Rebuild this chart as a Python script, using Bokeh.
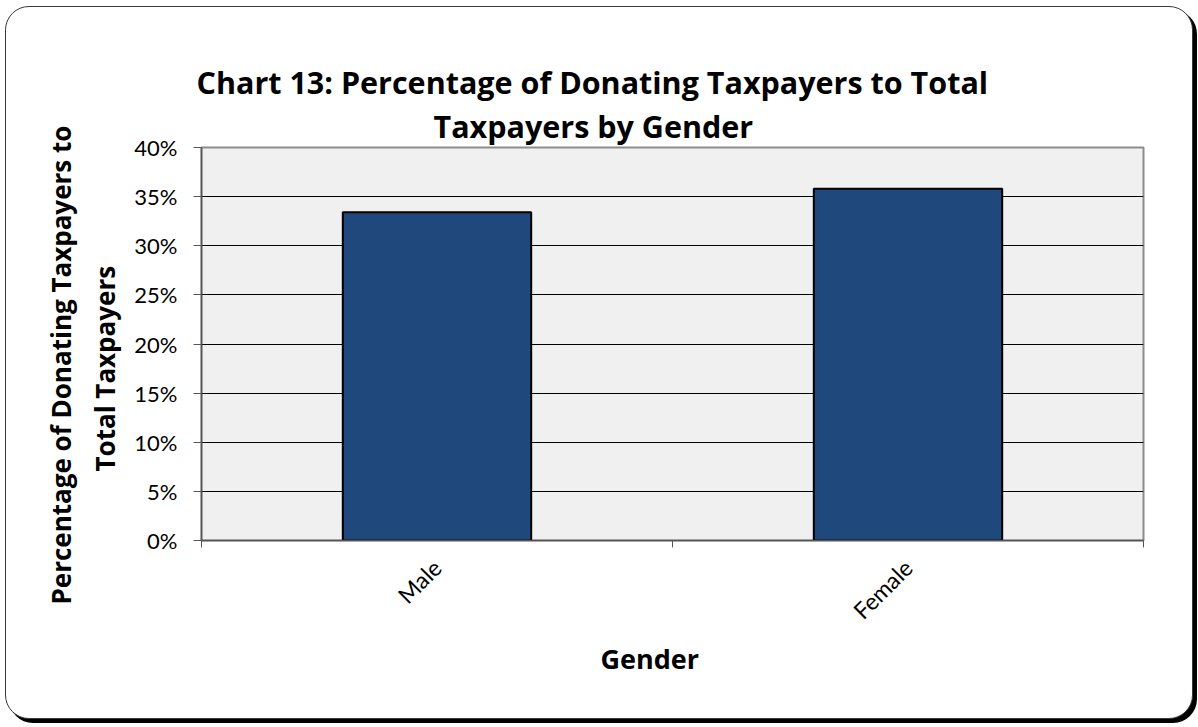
import math
from bokeh.plotting import figure
from bokeh.models import FixedTicker, NumeralTickFormatter, Title, Range1d
from bokeh.embed import file_html
from bokeh.resources import INLINE

# ---- data ----
genders = ["Male", "Female"]
share = [0.334, 0.358]
y_ticks = [0.0, 0.05, 0.10, 0.15, 0.20, 0.25, 0.30, 0.35, 0.40]
title_lines = ["Chart 13: Percentage of Donating Taxpayers to Total", "Taxpayers by Gender"]
ylabel_lines = ["Percentage of Donating Taxpayers to", "Total Taxpayers"]
xlabel = "Gender"

W, H = 1188, 713
FONT = "Lato"
TFONT = "Open Sans"

xpos = [i + 0.5 for i in range(len(genders))]

p = figure(width=W, height=H, output_backend="svg", toolbar_location=None,
           title_location=None,
           x_range=Range1d(0, len(genders)), y_range=Range1d(0, 0.40),
           min_border_left=195, min_border_right=51, min_border_top=140, min_border_bottom=180,
           background_fill_color="#f0f0f0", border_fill_color=None,
           outline_line_color="#8c8c8c", outline_line_width=2,
           styles={"margin-left": "5px", "margin-top": "6px",
                   "border": "1px solid #3a3a3a", "border-radius": "24px",
                   "box-shadow": "4px 4px 0 0 #000", "background-color": "white"})

p.vbar(x=xpos, top=share, width=0.4, fill_color="#1F497D", line_color="black", line_width=2)

# grid
p.xgrid.visible = False
p.ygrid.ticker = FixedTicker(ticks=y_ticks[1:-1])
p.ygrid.grid_line_color = "black"
p.ygrid.grid_line_width = 1

# y axis
ya = p.yaxis[0]
ya.ticker = FixedTicker(ticks=y_ticks)
ya.formatter = NumeralTickFormatter(format="0%")
ya.axis_line_color = "#555555"
ya.axis_line_width = 1.5
ya.major_tick_line_color = "#555555"
ya.major_tick_in = 0
ya.major_tick_out = 8
ya.minor_tick_line_color = None
ya.major_label_standoff = 16
ya.major_label_text_font = FONT
ya.major_label_text_font_size = "22px"
ya.major_label_text_color = "black"

# x axis: labels at category centres, ticks at category boundaries
xa = p.xaxis[0]
xa.ticker = FixedTicker(ticks=xpos, minor_ticks=list(range(len(genders) + 1)))
xa.major_label_overrides = {x: g for x, g in zip(xpos, genders)}
xa.major_tick_line_color = None
xa.minor_tick_line_color = "#555555"
xa.minor_tick_in = 0
xa.minor_tick_out = 7
xa.axis_line_color = "#555555"
xa.axis_line_width = 1.5
xa.major_label_orientation = math.pi / 4
xa.major_label_standoff = 16
xa.major_label_text_font = FONT
xa.major_label_text_font_size = "23px"
xa.major_label_text_color = "black"

def mk_title(text, size, offset, standoff):
    return Title(text=text, align="left", offset=offset, standoff=standoff,
                 text_font=TFONT, text_font_style="bold", text_font_size=size,
                 text_color="black")

# chart title: closest line first
p.add_layout(mk_title(title_lines[1], "30.5px", 232, 2), "above")
p.add_layout(mk_title(title_lines[0], "30.5px", -5, -2), "above")

# y-axis title: closest line first
p.add_layout(mk_title(ylabel_lines[1], "26px", 69, 18), "left")
p.add_layout(mk_title(ylabel_lines[0], "26px", -64, -6), "left")

# x-axis title
p.add_layout(mk_title(xlabel, "27px", 399, 0), "below")

open("out.html", "w").write(file_html(p, INLINE))
